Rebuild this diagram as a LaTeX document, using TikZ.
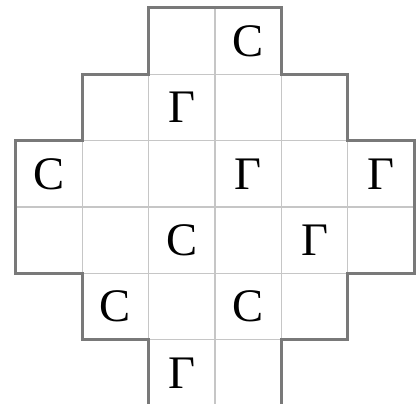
\documentclass[tikz,border=0pt]{standalone}
\usepackage{fontspec}
\setmainfont{Liberation Serif}
\usepackage{tikz}

\begin{document}
\begin{tikzpicture}[x=1cm,y=1cm,
  cell/.style={draw=gray!45,line width=0.6pt},
  outline/.style={draw=gray!95!black,line width=1.3pt,line join=miter},
  sym/.style={font=\fontsize{20}{24}\selectfont,inner sep=0pt}]
  \useasboundingbox (-0.24,0.045) rectangle (6.075,6.12);
  % cells, row by row from the top
  \foreach \r/\a/\b in {0/2/3,1/1/4,2/0/5,3/0/5,4/1/4,5/2/3}
    \foreach \c in {\a,...,\b}
      \draw[cell] (\c,5-\r) rectangle ++(1,1);
  % border
  \draw[outline] (2,6) -- (4,6) -- (4,5) -- (5,5) -- (5,4) -- (6,4) -- (6,2) -- (5,2)
    -- (5,1) -- (4,1) -- (4,0) -- (2,0) -- (2,1) -- (1,1) -- (1,2) -- (0,2) -- (0,4)
    -- (1,4) -- (1,5) -- (2,5) -- cycle;
  % letters
  \foreach \r/\c/\t [count=\i] in {0/3/C,1/2/\char"0393,2/0/C,2/3/\char"0393,2/5/\char"0393,
      3/2/C,3/4/\char"0393,4/1/C,4/3/C,5/2/\char"0393}
    \node[sym] (s\i) at (\c+0.5,5.5-\r) {\t};
\end{tikzpicture}
\end{document}
